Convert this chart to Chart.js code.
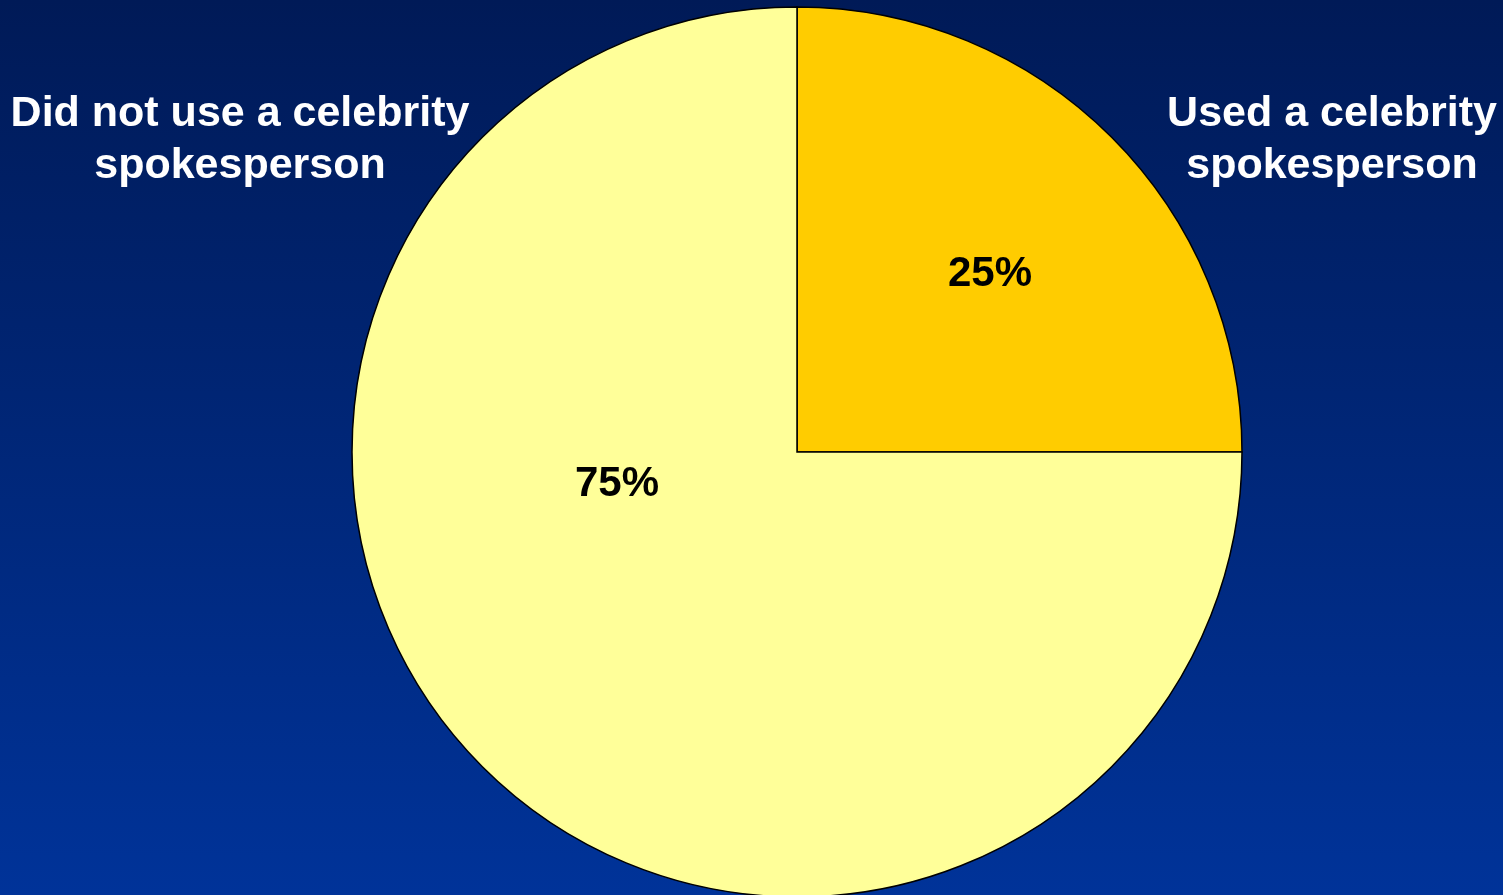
<!DOCTYPE html>
<html>
<head>
<meta charset="utf-8">
<script src="https://cdn.jsdelivr.net/npm/chart.js@4/dist/chart.umd.min.js"></script>
<style>
  html, body { margin: 0; padding: 0; overflow: hidden; }
  body { width: 1503px; height: 895px; background: linear-gradient(to bottom, #001a57 0%, #003399 100%); }
  #wrap { position: relative; width: 1503px; height: 895px; }
</style>
</head>
<body>
<div id="wrap"><canvas id="pie" width="1503" height="895"></canvas></div>
<script>
const categories = ["Used a celebrity spokesperson", "Did not use a celebrity spokesperson"];
const shares = [25, 75];
const sliceColors = ["#ffcc00", "#ffff99"];

// where the category captions sit, and how the % labels are placed inside each slice
const captionLines = [["Used a celebrity", "spokesperson"], ["Did not use a celebrity", "spokesperson"]];
const captionPos = [{ x: 1332, y: 114 }, { x: 240, y: 114 }];
const pctPlacement = [{ angleDeg: -42.7, r: 0.59 }, { angleDeg: 169.9, r: 0.411 }];

const labelPlugin = {
  id: "sliceLabels",
  afterDatasetsDraw(chart) {
    const ctx = chart.ctx;
    const arcs = chart.getDatasetMeta(0).data;
    ctx.save();
    ctx.textAlign = "center";
    ctx.textBaseline = "middle";

    ctx.font = "bold 42px 'Liberation Sans', Arial, sans-serif";
    ctx.fillStyle = "#000000";
    arcs.forEach((arc, i) => {
      const p = pctPlacement[i];
      const a = p.angleDeg * Math.PI / 180;
      const x = arc.x + Math.cos(a) * arc.outerRadius * p.r;
      const y = arc.y + Math.sin(a) * arc.outerRadius * p.r;
      ctx.fillText(shares[i] + "%", x, y);
    });

    ctx.font = "bold 43px 'Liberation Sans', Arial, sans-serif";
    ctx.fillStyle = "#ffffff";
    captionLines.forEach((lines, i) => {
      lines.forEach((line, j) => {
        ctx.fillText(line, captionPos[i].x, captionPos[i].y + j * 52);
      });
    });
    ctx.restore();
  }
};

new Chart(document.getElementById("pie"), {
  type: "pie",
  data: {
    labels: categories,
    datasets: [{
      data: shares,
      backgroundColor: sliceColors,
      borderColor: "#000000",
      borderWidth: 1.5,
      borderJoinStyle: "miter",
      clip: false
    }]
  },
  options: {
    responsive: false,
    animation: false,
    radius: 445,
    layout: { padding: { left: 91, right: 0, top: 9, bottom: 0 } },
    plugins: {
      legend: { display: false },
      tooltip: { enabled: false }
    }
  },
  plugins: [labelPlugin]
});
</script>
</body>
</html>
